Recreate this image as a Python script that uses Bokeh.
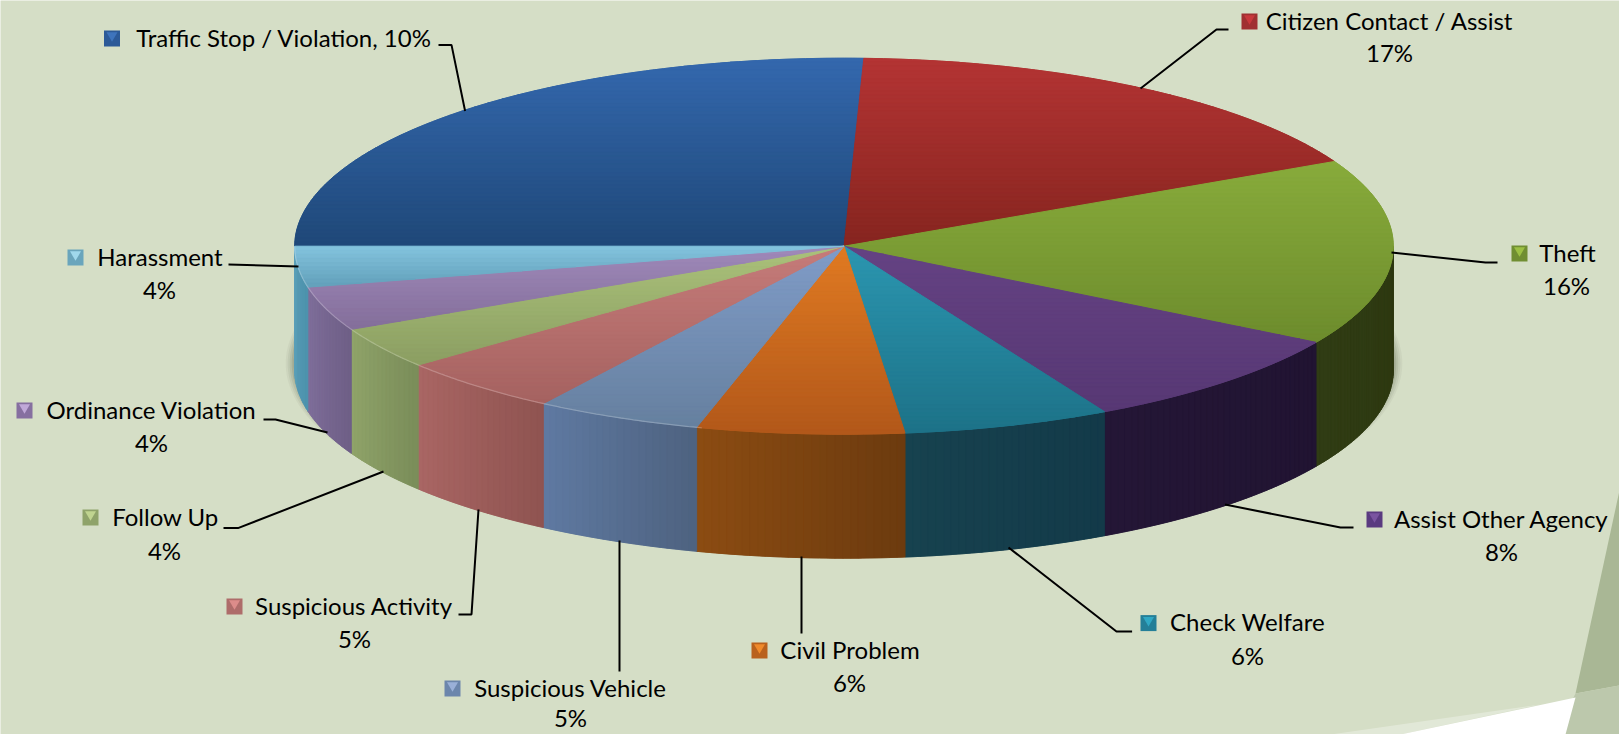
import numpy as np
from bokeh.plotting import figure
from bokeh.embed import file_html
from bokeh.resources import INLINE
from bokeh.core.properties import value

# ---- data ----
categories = ["Traffic Stop / Violation", "Citizen Contact / Assist", "Theft", "Assist Other Agency",
              "Check Welfare", "Civil Problem", "Suspicious Vehicle", "Suspicious Activity",
              "Follow Up", "Ordinance Violation", "Harassment"]
percent_labels = ["10%", "17%", "16%", "8%", "6%", "6%", "5%", "5%", "4%", "4%", "4%"]
drawn_shares = [25.6, 17.0, 16.0, 8.6, 6.1, 6.1, 4.9, 4.9, 3.6, 3.8, 3.5]

# ---- styles ----
top_hi = ["#3468ae", "#b43434", "#88ab3b", "#654283", "#2b96b0", "#e07a22", "#809cc8", "#c67c7a", "#abc27b", "#a08aba", "#84c4de"]
top_lo = ["#1f4878", "#86251f", "#6d8c2d", "#573874", "#1d7288", "#b2581a", "#66809f", "#a56260", "#8b9e62", "#836e9a", "#62a0ba"]
side_l = ["#22467a", "#86251f", "#303c14", "#241636", "#17424f", "#8c4c12", "#5f7aa2", "#aa6664", "#90a469", "#80709c", "#5fa3bd"]
side_r = ["#22467a", "#86251f", "#2e3911", "#211432", "#133a49", "#6c3b0f", "#4e6280", "#8f5451", "#7a8d5a", "#6e5e86", "#4c92ac"]
key_hi = ["#3e74bc", "#c8383c", "#9cc044", "#7a54a0", "#30a8c4", "#f08a2c", "#9ab0d8", "#dc8c8a", "#c0d490", "#c0a8d8", "#a0d8ec"]
key_lo = ["#2c5a98", "#a03032", "#708e32", "#5a3a80", "#247f98", "#b9611e", "#6c86ac", "#ae6c6a", "#8fa36a", "#866fa0", "#6aa5bc"]

BG = "#d5dec6"
FONT = "Lato"
FS = "24px"

W, H = 1619, 734
p = figure(width=W, height=H, x_range=(0, W), y_range=(H, 0), output_backend="svg",
           toolbar_location=None, x_axis_type=None, y_axis_type=None, min_border=0,
           background_fill_color=BG, border_fill_color=BG, outline_line_color=None)
p.grid.visible = False

# ---- slide decoration, bottom right ----
p.patch([1619, 1575, 1619], [490, 693, 685], fill_color="#a9b795", line_color=None)
p.patch([1619, 1575, 1555, 1619], [685, 693, 734, 734], fill_color="#bcc8ac", line_color=None)
p.patch([1575, 1400, 1565], [697, 734, 734], fill_color="#ffffff", line_color=None)
p.patch([1540, 1330, 1400], [704, 734, 734], fill_color="#ffffff", fill_alpha=0.3, line_color=None)

# ---- pie geometry ----
CX, CY, RX, RY, DEPTH = 843.5, 245.7, 549.3, 188.0, 124.0


def hex2rgb(c):
    return np.array([int(c[i:i + 2], 16) for i in (1, 3, 5)], dtype=float)


def mix(a, b, f):
    r = hex2rgb(a) * (1 - f) + hex2rgb(b) * f
    return "#%02x%02x%02x" % tuple(int(round(v)) for v in r)


def px(t):
    return CX + RX * np.cos(t)


def py(t):
    return CY - RY * np.sin(t)


def clip(poly, y, keep_below):
    out = []
    for i in range(len(poly)):
        a, b = poly[i], poly[(i + 1) % len(poly)]
        ina = a[1] >= y if keep_below else a[1] <= y
        inb = b[1] >= y if keep_below else b[1] <= y
        if ina:
            out.append(a)
        if ina != inb:
            f = (y - a[1]) / (b[1] - a[1])
            out.append((a[0] + f * (b[0] - a[0]), y))
    return out


# shadow
for grow, alpha in zip([9, 7, 5, 3, 1], [0.06, 0.08, 0.10, 0.14, 0.2]):
    th = np.linspace(0, 2 * np.pi, 240)
    p.patch(CX + (RX + grow) * np.cos(th), 363 + (RY + grow * 0.4) * np.sin(th),
            fill_color="#50553f", fill_alpha=alpha, line_color=None)

shares = np.array(drawn_shares, dtype=float)
sweep = shares / shares.sum() * 2 * np.pi
ends = np.pi - np.cumsum(sweep)
starts = ends + sweep

# side walls: one solid base per slice, then vertical strips for the gradient
bx, by, bc, sx, sy, sc = [], [], [], [], [], []
for i in range(len(categories)):
    hi, lo = min(starts[i], 0.0), max(ends[i], -np.pi)
    if hi <= lo:
        continue
    arc = np.linspace(lo, hi, 60)
    bx.append(list(px(arc)) + list(px(arc[::-1])))
    by.append(list(py(arc)) + list(py(arc[::-1]) + DEPTH))
    bc.append(mix(side_l[i], side_r[i], 0.5))
    if side_l[i] == side_r[i]:
        continue
    edges = np.linspace(lo, hi, max(3, int(np.degrees(hi - lo) / 0.8)) + 1)
    for k, (e0, e1) in enumerate(zip(edges[:-1], edges[1:])):
        col = mix(side_l[i], side_r[i], (k + 0.5) / (len(edges) - 1))
        sx.append([px(e0), px(e1), px(e1), px(e0)])
        sy.append([py(e0), py(e1), py(e1) + DEPTH, py(e0) + DEPTH])
        sc.append(col)
p.patches(bx, by, fill_color=bc, line_color=bc, line_width=0.5)
p.patches(sx, sy, fill_color=sc, line_color=sc, line_width=0.8)

# top faces: solid base, then a vertical gradient built from thin bands
fx, fy, fc, tx, ty, tc = [], [], [], [], [], []
for i in range(len(categories)):
    n = max(8, int(abs(starts[i] - ends[i]) / np.radians(1)))
    th = np.linspace(starts[i], ends[i], n)
    poly = [(CX, CY)] + list(zip(px(th), py(th)))
    fx.append([q[0] for q in poly])
    fy.append([q[1] for q in poly])
    fc.append(mix(top_hi[i], top_lo[i], 0.5))
    ys = [q[1] for q in poly]
    y0, y1 = min(ys), max(ys)
    bands = max(6, int((y1 - y0) / 4))
    lim = np.linspace(y0, y1, bands + 1)
    for b in range(bands):
        part = clip(clip(poly, lim[b], True), lim[b + 1], False)
        if len(part) < 3:
            continue
        tx.append([q[0] for q in part])
        ty.append([q[1] for q in part])
        tc.append(mix(top_hi[i], top_lo[i], (b + 0.5) / bands))
p.patches(fx, fy, fill_color=fc, line_color=fc, line_width=0.5)
p.patches(tx, ty, fill_color=tc, line_color=tc, line_width=1.0)

# pale rim on the front-left edge of the top face
rim = np.linspace(-np.pi, -np.radians(105), 160)
p.line(px(rim), py(rim), line_color="#ffffff", line_alpha=0.22, line_width=1.3)

# ---- leader lines ----
leaders = [
    ([438, 451, 464.6], [44.4, 44.4, 110.5]),
    ([1228, 1216, 1140], [29, 29, 88]),
    ([1497, 1485, 1391], [262, 262, 252]),
    ([1353, 1340, 1224.5], [527, 527, 504]),
    ([1131.6, 1116, 1008], [631, 631, 547]),
    ([801, 801], [556, 633]),
    ([619, 619], [540, 671]),
    ([458, 471, 478], [614, 614, 509]),
    ([223, 237.5, 383], [527.6, 527.6, 471]),
    ([263, 275, 327], [419, 419, 432]),
    ([228, 298], [264, 266]),
]
p.multi_line([l[0] for l in leaders], [l[1] for l in leaders], line_color="#000000", line_width=2)

# ---- labels ----
name_x = [283.5, 1389, 1567, 1501, 1247, 849.5, 570, 353.5, 165, 151, 159.5]
name_y = [38, 21, 253, 519, 622.6, 650, 688, 606, 517, 410, 257]
pct_x = [None, 1389, 1566, 1501, 1247, 849, 570, 354, 164, 151, 159]
pct_y = [None, 53, 286, 552, 656, 683, 718, 639, 551, 443, 290]
key_x = [111.5, 1249, 1519, 1374, 1148, 759, 452, 234, 90, 24, 75]
key_y = name_y

names = [categories[0] + ", " + percent_labels[0]] + categories[1:]
p.text(name_x, [y - 1.5 for y in name_y], text=names, text_font=value(FONT), text_font_size=FS,
       text_color="#000000", text_align="center", text_baseline="middle")
p.text(pct_x[1:], [y - 1.5 for y in pct_y[1:]], text=percent_labels[1:], text_font=value(FONT),
       text_font_size=FS, text_color="#000000", text_align="center", text_baseline="middle")

# legend-key squares
p.scatter(key_x, key_y, marker="square", size=16, fill_color=key_lo, line_color=None)
p.scatter(key_x, [y - 3 for y in key_y], marker="inverted_triangle", size=11, fill_color=key_hi, line_color=None)

html = file_html(p, INLINE)
open("out.html", "w").write(html)
